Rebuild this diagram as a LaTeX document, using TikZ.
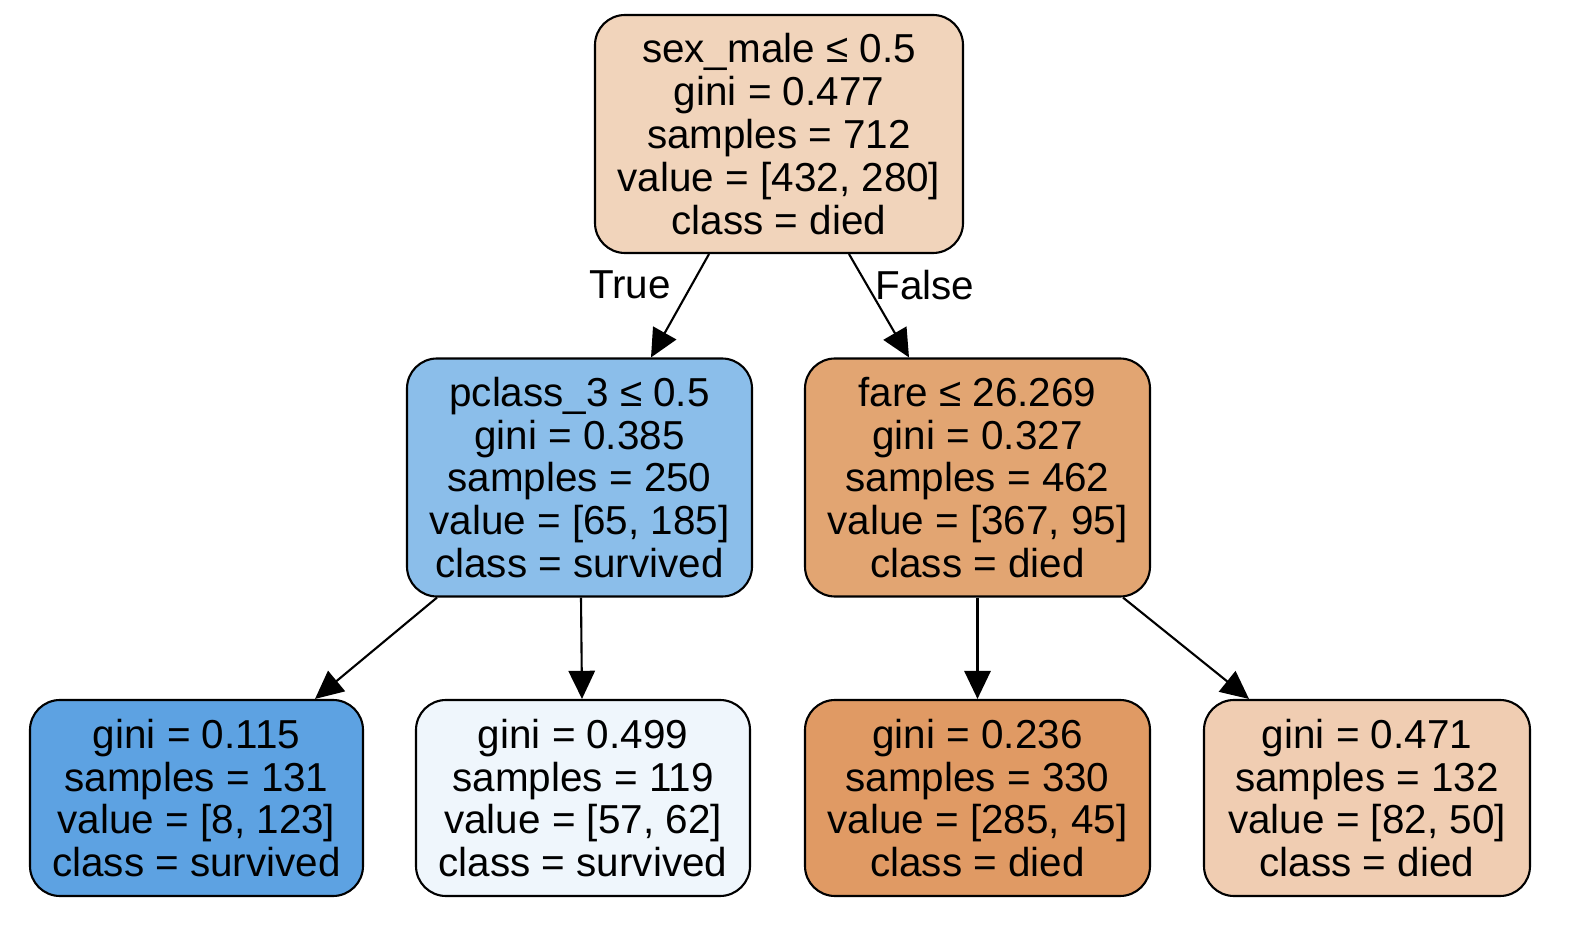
\documentclass[tikz,border=0pt]{standalone}
\usepackage{fontspec}
\setmainfont{Liberation Sans}
\usetikzlibrary{arrows.meta}

\definecolor{rootcol}{HTML}{F1D4BB}
\definecolor{survmid}{HTML}{8BBEEA}
\definecolor{diedmid}{HTML}{E2A572}
\definecolor{survdark}{HTML}{5DA2E2}
\definecolor{survpale}{HTML}{EFF6FC}
\definecolor{dieddark}{HTML}{E09A64}
\definecolor{diedpale}{HTML}{F0CDB2}

\tikzset{
    treenode/.style={draw, line width=0.6pt, rounded corners=0.3cm, align=center,
        inner sep=0pt, font=\fontsize{11.5}{12.2}\selectfont},
    splitnode/.style={treenode, minimum height=2.38cm},
    leafnode/.style={treenode, minimum height=1.96cm},
    edge/.style={-{Triangle[length=8pt,width=7.5pt]}, line width=0.6pt},
    edgelabel/.style={font=\fontsize{11.5}{12.2}\selectfont}
}

\begin{document}
\begin{tikzpicture}
    \useasboundingbox (0,0) rectangle (15.96,-9.30);

    % Splitting nodes
    \node[splitnode, fill=rootcol, minimum width=3.68cm] (root) at (7.79,-1.34)
        {sex\_male ≤ 0.5\\gini = 0.477\\samples = 712\\value = [432, 280]\\class = died};
    \node[splitnode, fill=survmid, minimum width=3.45cm] (pclass) at (5.795,-4.775)
        {pclass\_3 ≤ 0.5\\gini = 0.385\\samples = 250\\value = [65, 185]\\class = survived};
    \node[splitnode, fill=diedmid, minimum width=3.45cm] (fare) at (9.775,-4.775)
        {fare ≤ 26.269\\gini = 0.327\\samples = 462\\value = [367, 95]\\class = died};

    % Leaves
    \node[leafnode, fill=survdark, minimum width=3.33cm] (leafa) at (1.965,-7.98)
        {gini = 0.115\\samples = 131\\value = [8, 123]\\class = survived};
    \node[leafnode, fill=survpale, minimum width=3.34cm] (leafb) at (5.83,-7.98)
        {gini = 0.499\\samples = 119\\value = [57, 62]\\class = survived};
    \node[leafnode, fill=dieddark, minimum width=3.45cm] (leafc) at (9.775,-7.98)
        {gini = 0.236\\samples = 330\\value = [285, 45]\\class = died};
    \node[leafnode, fill=diedpale, minimum width=3.26cm] (leafd) at (13.67,-7.98)
        {gini = 0.471\\samples = 132\\value = [82, 50]\\class = died};

    % Edges
    \draw[edge] ([xshift=-0.70cm]root.south) -- ([xshift=0.715cm]pclass.north);
    \draw[edge] ([xshift=0.70cm]root.south) -- ([xshift=-0.685cm]fare.north);
    \draw[edge] ([xshift=-1.425cm]pclass.south) -- ([xshift=1.185cm]leafa.north);
    \draw[edge] ([xshift=0.015cm]pclass.south) -- ([xshift=-0.01cm]leafb.north);
    \draw[edge] (fare.south) -- (leafc.north);
    \draw[edge] ([xshift=1.455cm]fare.south) -- ([xshift=-1.18cm]leafd.north);

    % Edge labels
    \node[edgelabel] (truelab) at (6.30,-2.85) {True};
    \node[edgelabel] (falselab) at (9.25,-2.85) {False};
\end{tikzpicture}
\end{document}
